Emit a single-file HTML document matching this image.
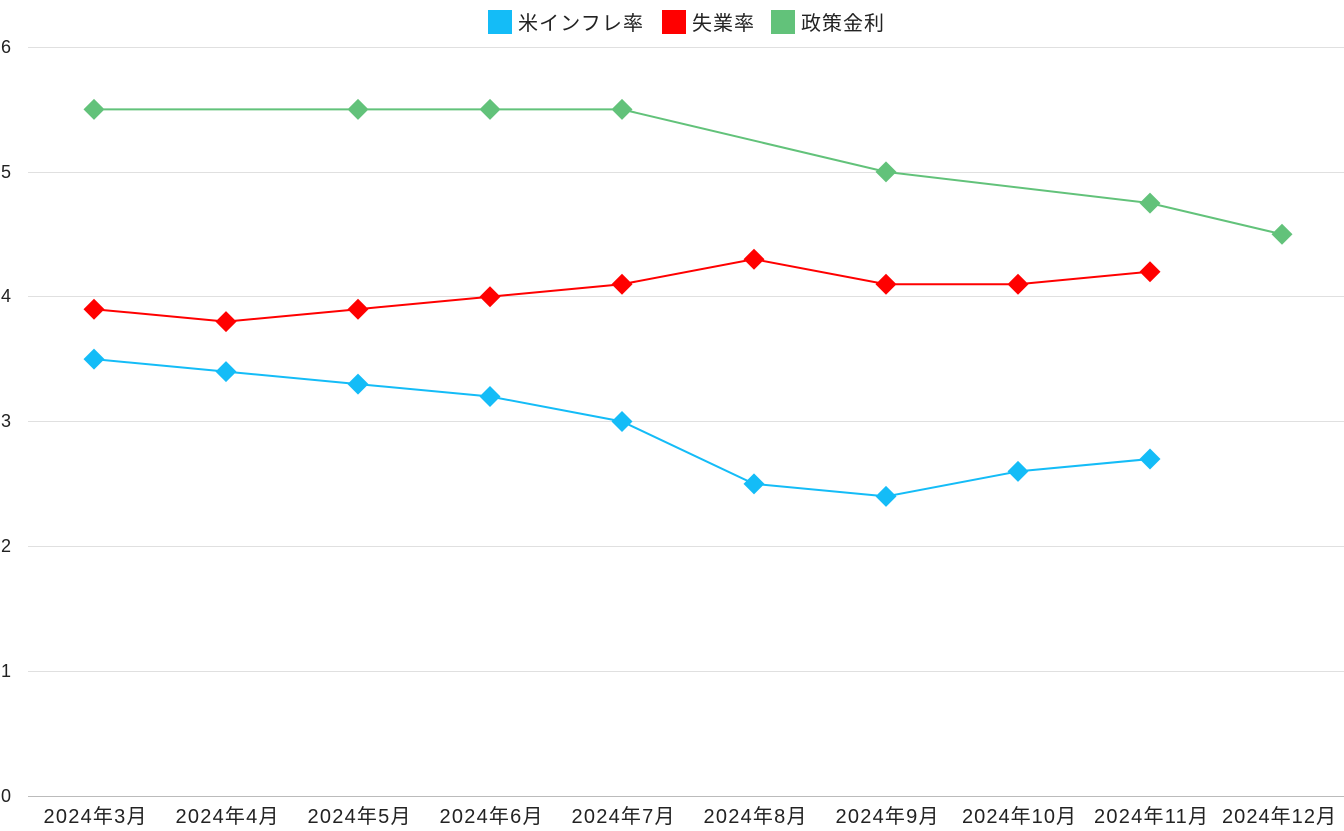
<!DOCTYPE html>
<html><head><meta charset="utf-8"><style>
body{margin:0;background:#fff}
svg text{font-family:"Liberation Sans","Noto Sans CJK JP",sans-serif;fill:#222}
</style></head><body>
<svg width="1344" height="826" xmlns="http://www.w3.org/2000/svg">
<defs>
<path id="d" d="M0,-10.5 L10.5,0 L0,10.5 L-10.5,0Z"/>
</defs>
<g stroke="#e0e0e0" stroke-width="1">
<line x1="28" x2="1344" y1="47.5" y2="47.5"/>
<line x1="28" x2="1344" y1="172.5" y2="172.5"/>
<line x1="28" x2="1344" y1="296.5" y2="296.5"/>
<line x1="28" x2="1344" y1="421.5" y2="421.5"/>
<line x1="28" x2="1344" y1="546.5" y2="546.5"/>
<line x1="28" x2="1344" y1="671.5" y2="671.5"/>
</g>
<line x1="28" x2="1344" y1="796.5" y2="796.5" stroke="#bbb"/>
<g font-size="18" text-anchor="start">
<text x="1" y="53">6</text><text x="1" y="178">5</text><text x="1" y="302">4</text>
<text x="1" y="427">3</text><text x="1" y="552">2</text><text x="1" y="677">1</text><text x="1" y="802">0</text>
</g>
<g font-size="20" text-anchor="middle">
<text x="95" y="823" textLength="103">2024年3月</text><text x="227" y="823" textLength="103">2024年4月</text><text x="359" y="823" textLength="103">2024年5月</text>
<text x="491" y="823" textLength="103">2024年6月</text><text x="623" y="823" textLength="103">2024年7月</text><text x="755" y="823" textLength="103">2024年8月</text>
<text x="887" y="823" textLength="103">2024年9月</text><text x="1019" y="823" textLength="114">2024年10月</text><text x="1151" y="823" textLength="114">2024年11月</text>
<text x="1279" y="823" textLength="114">2024年12月</text>
</g>
<g fill="none" stroke-width="2">
<polyline stroke="#62c27a" points="94,109.4 358,109.4 490,109.4 622,109.4 886,171.9 1150,203.1 1282,234.3"/>
<polyline stroke="#ff0000" points="94,309.2 226,321.6 358,309.2 490,296.7 622,284.2 754,259.2 886,284.2 1018,284.2 1150,271.7"/>
<polyline stroke="#14bcf7" points="94,359.1 226,371.6 358,384.1 490,396.5 622,421.5 754,483.9 886,496.4 1018,471.4 1150,459"/>
</g>
<g fill="#62c27a">
<use href="#d" x="94" y="109.4"/><use href="#d" x="358" y="109.4"/><use href="#d" x="490" y="109.4"/><use href="#d" x="622" y="109.4"/>
<use href="#d" x="886" y="171.9"/><use href="#d" x="1150" y="203.1"/><use href="#d" x="1282" y="234.3"/>
</g>
<g fill="#ff0000">
<use href="#d" x="94" y="309.2"/><use href="#d" x="226" y="321.6"/><use href="#d" x="358" y="309.2"/><use href="#d" x="490" y="296.7"/>
<use href="#d" x="622" y="284.2"/><use href="#d" x="754" y="259.2"/><use href="#d" x="886" y="284.2"/><use href="#d" x="1018" y="284.2"/><use href="#d" x="1150" y="271.7"/>
</g>
<g fill="#14bcf7">
<use href="#d" x="94" y="359.1"/><use href="#d" x="226" y="371.6"/><use href="#d" x="358" y="384.1"/><use href="#d" x="490" y="396.5"/>
<use href="#d" x="622" y="421.5"/><use href="#d" x="754" y="483.9"/><use href="#d" x="886" y="496.4"/><use href="#d" x="1018" y="471.4"/><use href="#d" x="1150" y="459"/>
</g>
<rect x="488" y="10" width="24" height="24" fill="#14bcf7"/>
<text x="518" y="30" font-size="20" textLength="125">米インフレ率</text>
<rect x="662" y="10" width="24" height="24" fill="#ff0000"/>
<text x="692" y="30" font-size="20" textLength="62">失業率</text>
<rect x="771" y="10" width="24" height="24" fill="#62c27a"/>
<text x="801" y="30" font-size="20" textLength="83">政策金利</text>
</svg>
</body></html>
